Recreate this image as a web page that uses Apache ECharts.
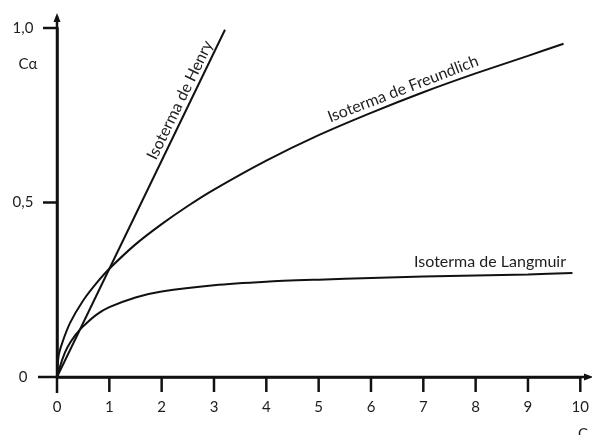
<!DOCTYPE html>
<html>
<head>
<meta charset="utf-8">
<script src="https://cdn.jsdelivr.net/npm/echarts@6/dist/echarts.min.js"></script>
<style>
  html, body { margin: 0; padding: 0; background: #fff; }
  #chart { width: 592px; height: 435px; }
</style>
</head>
<body>
<div id="chart"></div>
<script>
// Concentration axis ticks and adsorbed-fraction ticks
const xTicks = [0, 1, 2, 3, 4, 5, 6, 7, 8, 9, 10];
const yTicks = [0, 0.5, 1];
const yTickLabels = { 0: '0', 0.5: '0,5', 1: '1,0' };

// Henry isotherm: straight line through the origin
const henryC = [0, 3.21];
const henryQ = [0, 0.995];

// Freundlich isotherm
const freundlichC = [0, 0.03, 0.1, 0.25, 0.5, 0.75, 1, 1.5, 2, 2.5, 3, 4, 5, 6, 7, 8, 9, 9.68];
const freundlichQ = [0, 0.06, 0.098, 0.155, 0.219, 0.268, 0.31, 0.38, 0.438, 0.49, 0.537, 0.62, 0.693, 0.757, 0.816, 0.87, 0.92, 0.955];

// Langmuir isotherm
const langmuirC = [0, 0.1, 0.2, 0.35, 0.5, 0.75, 1, 1.5, 2, 3, 4, 5, 6, 7, 8, 9, 9.85];
const langmuirQ = [0, 0.05, 0.085, 0.12, 0.145, 0.178, 0.2, 0.228, 0.245, 0.263, 0.273, 0.279, 0.284, 0.288, 0.291, 0.294, 0.298];

const pair = (xs, ys) => xs.map((x, i) => [x, ys[i]]);

const INK = '#111';
const TEXT = '#1e1e1e';
const FONT = 'Lato';

const chart = echarts.init(document.getElementById('chart'), null, { renderer: 'canvas' });

const lineSeries = (name, data) => ({
  name,
  type: 'line',
  data,
  smooth: 0.25,
  showSymbol: false,
  symbol: 'none',
  lineStyle: { color: INK, width: 2 },
  silent: true,
  animation: false
});

const axisLineStyle = { color: INK, width: 2.5 };

chart.setOption({
  animation: false,
  grid: { left: 57, right: 9, top: 28, bottom: 58, containLabel: false },
  xAxis: {
    type: 'value',
    min: 0,
    max: 10,
    interval: 1,
    axisLine: { show: true, onZero: false, lineStyle: axisLineStyle },
    axisTick: { show: false },
    axisLabel: {
      margin: 23,
      color: TEXT,
      fontFamily: FONT,
      fontSize: 15,
      formatter: v => (xTicks.includes(v) ? String(v) : '')
    },
    splitLine: { show: false }
  },
  yAxis: {
    type: 'value',
    min: 0,
    max: 1,
    interval: 0.5,
    axisLine: { show: true, onZero: false, lineStyle: axisLineStyle },
    axisTick: { show: false },
    axisLabel: {
      margin: 34,
      align: 'center',
      color: TEXT,
      fontFamily: FONT,
      fontSize: 15,
      formatter: v => yTickLabels[v] ?? ''
    },
    splitLine: { show: false }
  },
  series: [
    lineSeries('Henry', pair(henryC, henryQ)),
    lineSeries('Freundlich', pair(freundlichC, freundlichQ)),
    lineSeries('Langmuir', pair(langmuirC, langmuirQ))
  ]
});

// Axis lines with arrow heads, extended past the plotted range, plus tick marks
const px = (c, q) => chart.convertToPixel({ gridIndex: 0 }, [c, q]);
const o = px(0, 0);
const yTop = px(0, 1)[1] - 15;
const xEnd = 592;
const axisStyle = { stroke: INK, lineWidth: 2.5 };

const graphics = [
  { type: 'line', shape: { x1: o[0], y1: o[1] + 16, x2: o[0], y2: yTop + 4 }, style: axisStyle, silent: true },
  { type: 'line', shape: { x1: o[0] - 19, y1: o[1], x2: xEnd - 4, y2: o[1] }, style: axisStyle, silent: true },
  { type: 'polygon', shape: { points: [[o[0], yTop], [o[0] - 3.5, yTop + 9], [o[0] + 3.5, yTop + 9]] }, style: { fill: INK }, silent: true },
  { type: 'polygon', shape: { points: [[xEnd + 1, o[1]], [xEnd - 8, o[1] - 3.5], [xEnd - 8, o[1] + 3.5]] }, style: { fill: INK }, silent: true }
];

xTicks.filter(v => v > 0).forEach(v => {
  const p = px(v, 0);
  graphics.push({ type: 'line', shape: { x1: p[0], y1: p[1], x2: p[0], y2: p[1] + 15 }, style: axisStyle, silent: true });
});
yTicks.filter(v => v > 0).forEach(v => {
  const p = px(0, v);
  graphics.push({ type: 'line', shape: { x1: p[0] - 14, y1: p[1], x2: p[0], y2: p[1] }, style: axisStyle, silent: true });
});

graphics.push(
  // axis titles
  { type: 'text', x: 28, y: 64, style: { text: 'Cα', fill: TEXT, font: '15px ' + FONT, align: 'center', verticalAlign: 'middle' }, silent: true },
  { type: 'text', x: 583, y: 427, style: { text: 'C', fill: TEXT, font: '15px ' + FONT, align: 'center', verticalAlign: 'top' }, silent: true },
  // curve names
  { type: 'text', x: 180, y: 100, rotation: 64 * Math.PI / 180, style: { text: 'Isoterma de Henry', fill: TEXT, font: '16px ' + FONT, align: 'center', verticalAlign: 'middle' }, silent: true },
  { type: 'text', x: 403, y: 89, rotation: 21 * Math.PI / 180, style: { text: 'Isoterma de Freundlich', fill: TEXT, font: '16px ' + FONT, align: 'center', verticalAlign: 'middle' }, silent: true },
  { type: 'text', x: 490, y: 262, style: { text: 'Isoterma de Langmuir', fill: TEXT, font: '16px ' + FONT, align: 'center', verticalAlign: 'middle' }, silent: true }
);

chart.setOption({ graphic: graphics });
</script>
</body>
</html>
